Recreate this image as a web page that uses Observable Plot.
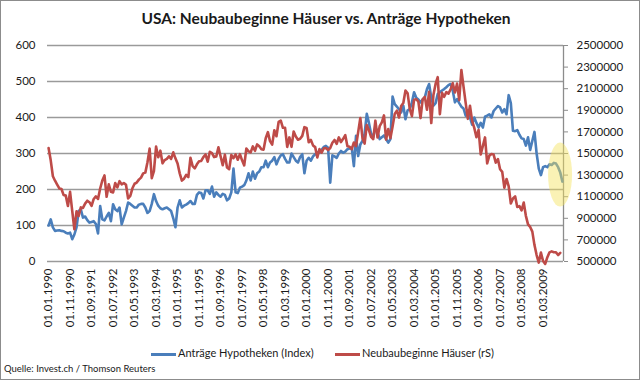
<!DOCTYPE html>
<html><head><meta charset="utf-8">
<script src="https://cdn.jsdelivr.net/npm/d3@7"></script>
<script src="https://cdn.jsdelivr.net/npm/@observablehq/plot@0.6"></script>
<style>
html,body{margin:0;padding:0;background:#fff;}
#wrap{position:relative;width:640px;height:380px;overflow:hidden;font-family:Lato,"Open Sans",sans-serif;color:#1a1a1a;}
#wrap svg{position:absolute;left:0;top:0;}
#border{position:absolute;left:0;top:0;width:640px;height:380px;box-sizing:border-box;border:1px solid #8c8c8c;pointer-events:none;}
#title{position:absolute;left:0;width:640px;top:9px;text-align:center;font-weight:bold;font-size:15.5px;padding-left:12px;box-sizing:border-box;}
.leg{position:absolute;top:346px;font-size:11px;white-space:nowrap;}
.sw{position:absolute;top:353px;width:25px;height:3px;}
#cap{position:absolute;left:4px;top:363px;font-size:9.5px;white-space:nowrap;}
</style></head>
<body><div id="wrap"></div>
<script>
// Monthly categories: Jan 1990 ... Dec 2009 (index 0 = 01.01.1990)
const startYear = 1990;
const nMonths = 240;

// Tick labels on the category axis (every 10th month)
const tickLabels = ["01.01.1990","01.11.1990","01.09.1991","01.07.1992","01.05.1993","01.03.1994","01.01.1995","01.11.1995","01.09.1996","01.07.1997","01.05.1998","01.03.1999","01.01.2000","01.11.2000","01.09.2001","01.07.2002","01.05.2003","01.03.2004","01.01.2005","01.11.2005","01.09.2006","01.07.2007","01.05.2008","01.03.2009"];

// Anträge Hypotheken (Index) – left axis
const antraege = [
 100,117,95,85,86,87,85,84,80,78,80,62,
 75,95,140,145,122,125,115,108,110,112,104,78,
 154,117,114,125,135,112,159,145,140,150,103,122,
 140,164,160,155,150,150,158,160,160,150,135,140,
 160,187,168,155,148,145,148,150,145,140,120,95,
 150,170,150,155,158,162,168,160,160,185,192,190,
 175,198,198,188,208,180,192,185,180,188,185,170,
 175,192,258,192,190,205,208,212,225,245,225,250,
 230,245,250,262,262,280,262,275,280,290,270,285,
 295,298,285,275,275,300,290,280,275,290,298,245,
 280,288,280,292,298,303,302,310,318,321,316,219,
 295,292,288,300,307,302,305,312,314,316,265,349,
 293,325,335,355,410,385,355,345,372,360,340,345,
 350,340,330,340,458,437,430,423,414,433,395,420,
 423,442,470,455,450,442,450,456,479,493,455,433,
 440,465,470,475,479,484,490,493,474,442,451,440,
 430,425,405,420,400,380,400,385,372,385,372,402,
 405,409,400,418,425,432,428,414,423,409,462,440,
 363,362,365,352,342,340,322,345,310,335,360,300,
 258,240,262,265,262,270,268,274,272,262,247,222
];

// Neubaubeginne Häuser (in Tausend) – right axis
const neubauTsd = [
 1551,1437,1289,1248,1212,1177,1171,1115,1110,1014,1145,969,
 798,965,921,1001,996,1036,1063,1049,1015,1079,1103,1079,
 1176,1250,1297,1099,1214,1145,1139,1226,1186,1244,1214,1227,
 1210,1083,1107,1178,1220,1231,1258,1277,1316,1323,1419,1545,
 1272,1337,1564,1465,1526,1409,1439,1450,1474,1450,1511,1455,
 1407,1316,1249,1267,1302,1281,1461,1383,1363,1400,1428,1431,
 1467,1491,1424,1516,1504,1467,1472,1557,1475,1392,1489,1370,
 1355,1486,1457,1492,1442,1494,1437,1390,1546,1520,1510,1566,
 1525,1584,1567,1540,1536,1641,1698,1614,1582,1715,1660,1792,
 1804,1738,1737,1561,1649,1562,1704,1657,1628,1636,1663,1744,
 1737,1604,1626,1575,1559,1463,1541,1507,1549,1551,1532,1551,
 1600,1625,1590,1649,1605,1636,1670,1567,1562,1540,1602,1568,
 1698,1829,1642,1592,1764,1717,1655,1633,1804,1648,1753,1788,
 1853,1629,1726,1643,1751,1867,1897,1833,1939,1967,2083,2057,
 1911,1846,1998,2003,1981,1828,2002,2024,1905,2072,1782,2042,
 2144,2207,1864,2061,2025,2068,2054,2095,2151,2065,2147,1994,
 2273,2119,1969,1821,1942,1802,1737,1650,1720,1491,1570,1649,
 1409,1480,1495,1490,1415,1448,1354,1330,1183,1264,1197,1037,
 1084,1103,1005,1013,973,1046,923,844,820,777,652,560,
 490,582,505,478,540,585,594,586,585,560,580
];

const leftTicks = [0,100,200,300,400,500,600];
const rightTicks = [500000,700000,900000,1100000,1300000,1500000,1700000,1900000,2100000,2300000,2500000];
const rightMin = 500000, rightMax = 2500000, leftMax = 600;

const seriesNames = ["Anträge Hypotheken (Index)", "Neubaubeginne Häuser (rS)"];
const colors = ["#4A7EBB", "#BE4B48"];
const titleText = "USA: Neubaubeginne Häuser vs. Anträge Hypotheken";
const captionText = "Quelle: Invest.ch / Thomson Reuters";
const highlight = {i: 238.6, v: 240}; // yellow highlight around latest values

// build tables
const toLeft = r => (r - rightMin) / (rightMax - rightMin) * leftMax;
const blueData = antraege.map((v, i) => ({i, v}));
const redData = neubauTsd.map((v, i) => ({i, v: toLeft(v * 1000)}));
const tickIdx = tickLabels.map((_, k) => k * 10);

const plot = Plot.plot({
  width: 640, height: 380,
  marginLeft: 47, marginRight: 77, marginTop: 45, marginBottom: 119,
  x: {domain: [-0.5, nMonths - 0.5], axis: null},
  y: {domain: [0, leftMax], axis: null},
  style: {fontFamily: "Lato, 'Open Sans', sans-serif", fontSize: "11.5px", color: "#1a1a1a", background: "transparent", overflow: "visible"},
  marks: [
    Plot.ruleY(leftTicks, {stroke: "#9a9a9a", strokeWidth: 1.3}),
    Plot.ruleX([nMonths - 0.5], {y1: 0, y2: leftMax, stroke: "#8c8c8c", strokeWidth: 1.3}),
    Plot.axisY(leftTicks, {anchor: "left", label: null, tickSize: 0, tickPadding: 12, tickFormat: d => String(d)}),
    Plot.axisY(rightTicks.map(toLeft), {anchor: "right", label: null, tickSize: 4, tickPadding: 9, stroke: "#8c8c8c",
      tickFormat: d => String(Math.round(rightMin + d / leftMax * (rightMax - rightMin)))}),
    Plot.axisX(tickIdx, {anchor: "bottom", label: null, tickSize: 0, tickPadding: 7, tickRotate: -90,
      tickFormat: d => tickLabels[tickIdx.indexOf(d)]}),
    Plot.line(blueData, {x: "i", y: "v", stroke: colors[0], strokeWidth: 2.6, strokeLinejoin: "round"}),
    Plot.line(redData, {x: "i", y: "v", stroke: colors[1], strokeWidth: 2.6, strokeLinejoin: "round"})
  ]
});

// highlight ellipse positioned via the plot scales
const sx = plot.scale("x"), sy = plot.scale("y");
d3.select(plot).append("ellipse")
  .attr("cx", sx.apply(highlight.i) - 1)
  .attr("cy", sy.apply(highlight.v))
  .attr("rx", 12).attr("ry", 32)
  .attr("fill", "#F5E25A").attr("fill-opacity", 0.45);

const wrap = document.getElementById("wrap");
wrap.appendChild(plot);

const t = document.createElement("div"); t.id = "title"; t.textContent = titleText; wrap.appendChild(t);
const legX = [[151, 178], [335, 362]];
seriesNames.forEach((name, k) => {
  const sw = document.createElement("div"); sw.className = "sw";
  sw.style.left = legX[k][0] + "px"; sw.style.background = colors[k]; wrap.appendChild(sw);
  const tx = document.createElement("div"); tx.className = "leg";
  tx.style.left = legX[k][1] + "px"; tx.textContent = name; wrap.appendChild(tx);
});
const c = document.createElement("div"); c.id = "cap"; c.textContent = captionText; wrap.appendChild(c);
const b = document.createElement("div"); b.id = "border"; wrap.appendChild(b);
</script>
</body></html>
